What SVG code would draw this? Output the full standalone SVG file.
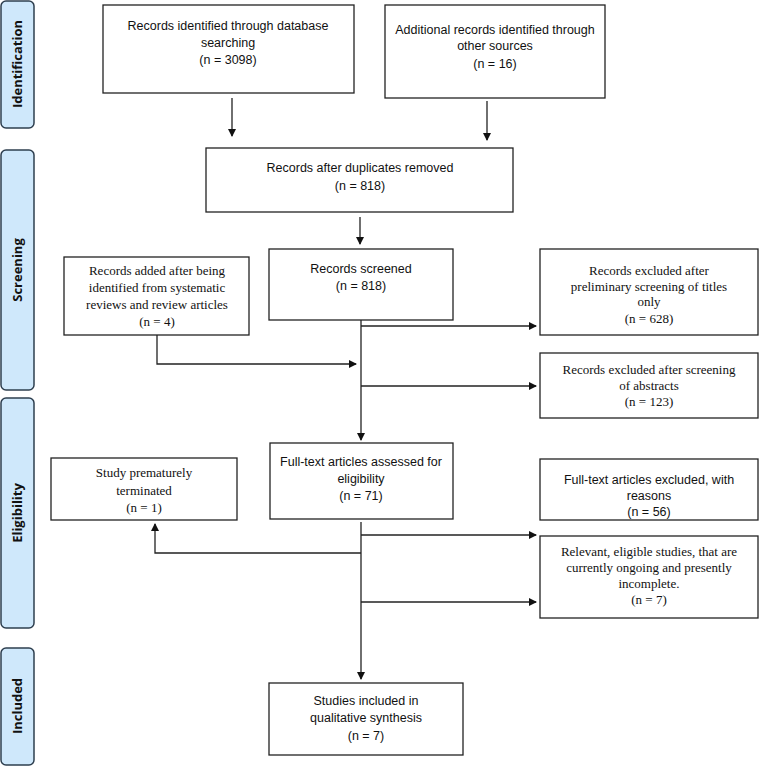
<svg xmlns="http://www.w3.org/2000/svg" width="763" height="767" viewBox="0 0 763 767">
<style>
.st{fill:#cfe8fb;stroke:#2e3f4f;stroke-width:1.5}
.stt{font-family:"Open Sans","Liberation Sans",sans-serif;font-weight:bold;font-size:13px;fill:#111;text-anchor:middle}
.b{fill:#fff;stroke:#222;stroke-width:1.3}
.s{font-family:"Liberation Sans",sans-serif;font-size:12.5px;fill:#111;text-anchor:middle}
.r{font-family:"Liberation Serif",serif;font-size:13px;fill:#111;text-anchor:middle}
.c{fill:none;stroke:#222;stroke-width:1.3}
</style>
<defs><marker id="a" markerWidth="8" markerHeight="8" refX="7" refY="4" orient="auto" markerUnits="userSpaceOnUse"><path d="M0,0L8,4L0,8z" fill="#111"/></marker></defs>
<g id="stages">
<rect class="st" x="1" y="1" width="33" height="127" rx="5"/><text class="stt" transform="translate(22,64) rotate(-90)">Identification</text>
<rect class="st" x="1" y="150" width="33" height="240" rx="5"/><text class="stt" transform="translate(22,270) rotate(-90)">Screening</text>
<rect class="st" x="1" y="398" width="33" height="230" rx="5"/><text class="stt" transform="translate(22,513) rotate(-90)">Eligibility</text>
<rect class="st" x="1" y="648" width="33" height="117" rx="5"/><text class="stt" transform="translate(22,706) rotate(-90)">Included</text>
</g>
<g id="n1"><rect class="b" x="103" y="5" width="251" height="88"/><text class="s" x="228" y="30">Records identified through database</text><text class="s" x="228" y="47">searching</text><text class="s" x="228" y="64">(n = 3098)</text></g>
<g id="n2"><rect class="b" x="385" y="5" width="220" height="93"/><text class="s" x="495" y="34">Additional records identified through</text><text class="s" x="495" y="50">other sources</text><text class="s" x="495" y="68">(n = 16)</text></g>
<g id="n3"><rect class="b" x="206" y="148" width="307" height="64"/><text class="s" x="360" y="172">Records after duplicates removed</text><text class="s" x="360" y="190">(n = 818)</text></g>
<g id="n4"><rect class="b" x="269" y="249" width="184" height="71"/><text class="s" x="361" y="273">Records screened</text><text class="s" x="361" y="290">(n = 818)</text></g>
<g id="n5"><rect class="b" x="64" y="257" width="185" height="78"/><text class="r" x="157" y="275">Records added after being</text><text class="r" x="157" y="292">identified from systematic</text><text class="r" x="157" y="309">reviews and review articles</text><text class="r" x="157" y="326">(n = 4)</text></g>
<g id="n6"><rect class="b" x="540" y="249" width="218" height="86"/><text class="r" x="649" y="275">Records excluded after</text><text class="r" x="649" y="291">preliminary screening of titles</text><text class="r" x="649" y="306">only</text><text class="r" x="649" y="323">(n = 628)</text></g>
<g id="n7"><rect class="b" x="540" y="353" width="218" height="65"/><text class="r" x="649" y="374">Records excluded after screening</text><text class="r" x="649" y="390">of abstracts</text><text class="r" x="649" y="406">(n = 123)</text></g>
<g id="n8"><rect class="b" x="270" y="443" width="183" height="76"/><text class="s" x="361" y="466">Full-text articles assessed for</text><text class="s" x="361" y="483">eligibility</text><text class="s" x="361" y="500">(n = 71)</text></g>
<g id="n9"><rect class="b" x="51" y="458" width="186" height="62"/><text class="r" x="144" y="477">Study prematurely</text><text class="r" x="144" y="495">terminated</text><text class="r" x="144" y="512">(n = 1)</text></g>
<g id="n10"><rect class="b" x="540" y="459" width="218" height="61"/><text class="s" x="649" y="484">Full-text articles excluded, with</text><text class="s" x="649" y="500">reasons</text><text class="s" x="649" y="516">(n = 56)</text></g>
<g id="n11"><rect class="b" x="540" y="536" width="218" height="82"/><text class="r" x="649" y="556">Relevant, eligible studies, that are</text><text class="r" x="649" y="572">currently ongoing and presently</text><text class="r" x="649" y="588">incomplete.</text><text class="r" x="649" y="604">(n = 7)</text></g>
<g id="n12"><rect class="b" x="269" y="683" width="194" height="72"/><text class="s" x="366" y="705">Studies included in</text><text class="s" x="366" y="722">qualitative synthesis</text><text class="s" x="366" y="740">(n = 7)</text></g>
<g id="connectors">
<line class="c" x1="232" y1="98" x2="232" y2="136" marker-end="url(#a)"/>
<line class="c" x1="487" y1="101" x2="487" y2="140" marker-end="url(#a)"/>
<line class="c" x1="360" y1="217" x2="360" y2="244" marker-end="url(#a)"/>
<line class="c" x1="361" y1="320" x2="361" y2="440" marker-end="url(#a)"/>
<line class="c" x1="361" y1="326" x2="536" y2="326" marker-end="url(#a)"/>
<polyline class="c" points="157,335 157,364 356,364" marker-end="url(#a)"/>
<line class="c" x1="361" y1="386" x2="536" y2="386" marker-end="url(#a)"/>
<line class="c" x1="361" y1="522" x2="361" y2="679" marker-end="url(#a)"/>
<line class="c" x1="361" y1="535" x2="536" y2="535" marker-end="url(#a)"/>
<polyline class="c" points="361,553 155,553 155,524" marker-end="url(#a)"/>
<line class="c" x1="361" y1="602" x2="536" y2="602" marker-end="url(#a)"/>
</g>
</svg>
